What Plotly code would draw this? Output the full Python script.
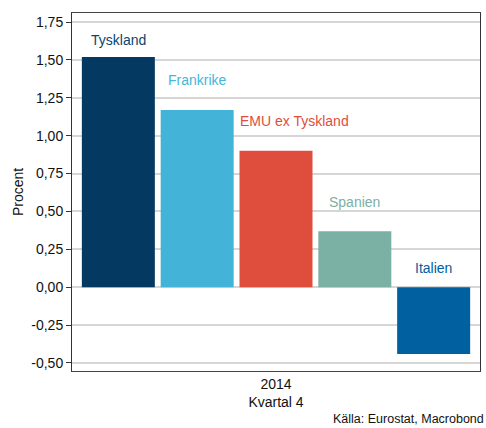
import plotly.graph_objects as go

# Quarterly change, 2014 Q4 (percent)
regions = ["Tyskland", "Frankrike", "EMU ex Tyskland", "Spanien", "Italien"]
values = [1.52, 1.17, 0.90, 0.37, -0.44]
bar_colors = ["#043a61", "#43b4d8", "#df4e3c", "#7bb0a4", "#0060a0"]
label_colors = ["#0b4470", "#45b5d9", "#df4e3c", "#7bb0a4", "#0060a0"]
label_y = [1.63, 1.37, 1.10, 0.56, 0.125]
category = ["2014<br>Kvartal 4"]
tick_vals = [-0.5, -0.25, 0.0, 0.25, 0.5, 0.75, 1.0, 1.25, 1.5, 1.75]
tick_text = [f"{v:.2f}".replace(".", ",") for v in tick_vals]

fig = go.Figure()
for name, val, col in zip(regions, values, bar_colors):
    fig.add_trace(go.Bar(x=category, y=[val], name=name, marker_color=col,
                         marker_line_width=0, showlegend=False))

# region labels placed over each bar slot
n = len(regions)
gap = 0.034
slot = (1 - gap) / n
for i, (name, ly, col) in enumerate(zip(regions, label_y, label_colors)):
    cx = gap / 2 + slot * (i + 0.5)
    if name == "EMU ex Tyskland":
        fig.add_annotation(x=gap / 2 + slot * i + 0.004, y=ly, xref="paper", yref="y",
                           text=name, showarrow=False, xanchor="left",
                           font=dict(color=col, size=14))
    else:
        fig.add_annotation(x=cx, y=ly, xref="paper", yref="y", text=name,
                           showarrow=False, xanchor="center",
                           font=dict(color=col, size=14))

fig.add_annotation(x=1.0, y=0, xref="paper", yref="paper", xanchor="right",
                   yanchor="bottom", xshift=6, yshift=-57,
                   text="Källa: Eurostat, Macrobond",
                   showarrow=False, font=dict(size=12.5, color="#111111"))

fig.update_layout(
    width=486, height=428, autosize=False,
    margin=dict(l=72, r=6, t=13, b=57, pad=0),
    paper_bgcolor="white", plot_bgcolor="white",
    font=dict(family="Liberation Sans, Arial, sans-serif", size=14, color="#111111"),
    barmode="group", bargap=gap, bargroupgap=0.074,
    xaxis=dict(showline=True, linecolor="#444444", linewidth=1, mirror=True,
               ticks="", showgrid=False, tickfont=dict(size=14), automargin=False),
    yaxis=dict(range=[-0.553, 1.81], tickvals=tick_vals, ticktext=tick_text,
               showgrid=True, gridcolor="#d6d6d6", gridwidth=1.5,
               zeroline=False, showline=True, linecolor="#333333", linewidth=1,
               mirror=True, ticks="outside", ticklen=5, tickcolor="#333333",
               title=dict(text="Procent", font=dict(size=14), standoff=4),
               tickfont=dict(size=14), automargin=False),
)

fig.write_html("out.html", config={"responsive": False})
